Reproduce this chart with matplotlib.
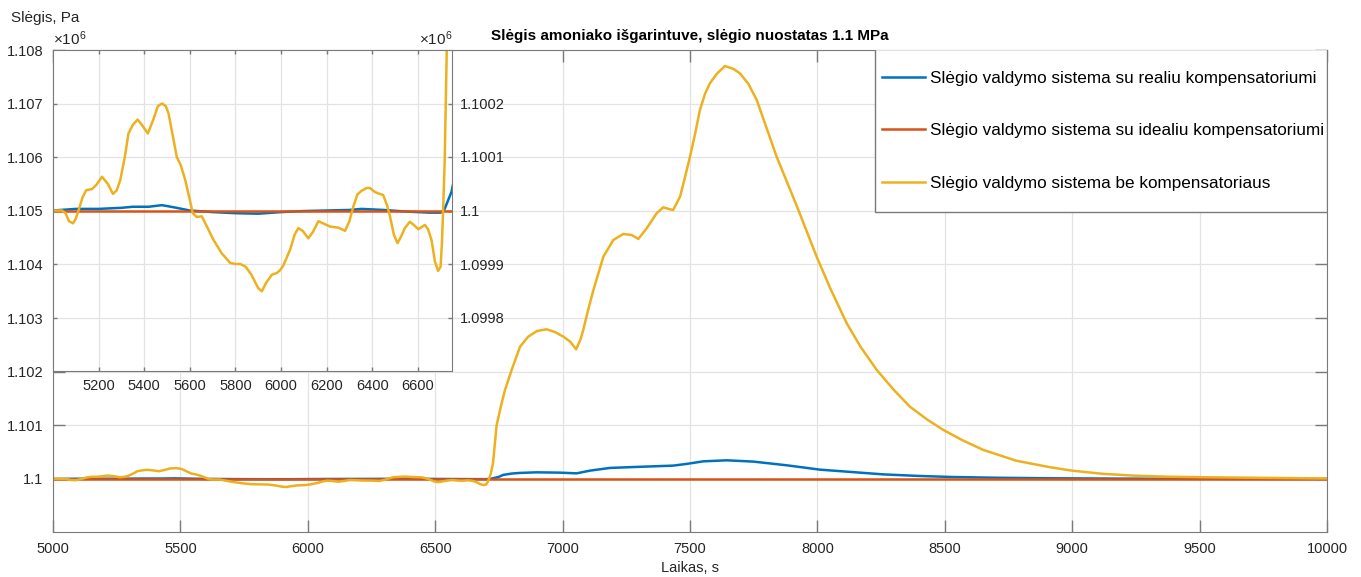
import numpy as np
import matplotlib.pyplot as plt
from matplotlib.patches import Rectangle
from matplotlib.ticker import FuncFormatter, MultipleLocator

plt.rcParams['font.family'] = ['Liberation Sans', 'DejaVu Sans']
plt.rcParams['mathtext.fontset'] = 'custom'
plt.rcParams['mathtext.rm'] = 'Liberation Sans'
plt.rcParams['mathtext.it'] = 'Liberation Sans:italic'

NUOSTATAS = 1.1e6  # slegio nuostatas, Pa

# be kompensatoriaus: laikas, s ir nuokrypis nuo nuostato, Pa
t_be = [5000, 5040, 5055, 5070, 5088, 5100, 5112, 5130, 5146, 5171, 5190, 5215,
        5240, 5263, 5280, 5295, 5315, 5331, 5350, 5371, 5390, 5416, 5440, 5460,
        5478, 5495, 5507, 5525, 5543, 5560, 5580, 5600, 5613, 5630, 5653, 5675,
        5704, 5740, 5777, 5800, 5821, 5845, 5870, 5900, 5916, 5935, 5960, 5981,
        5995, 6010, 6040, 6060, 6076, 6095, 6120, 6140, 6164, 6190, 6215, 6251,
        6281, 6300, 6317, 6335, 6354, 6375, 6390, 6410, 6426, 6448, 6465, 6478,
        6495, 6511, 6525, 6543, 6565, 6585, 6602, 6620, 6631, 6645, 6660, 6675,
        6689, 6700, 6706, 6711, 6718, 6727, 6741, 6760, 6774, 6800, 6833, 6865,
        6900, 6937, 6970, 7003, 7030, 7053, 7070, 7081, 7100, 7121, 7160, 7199,
        7238, 7271, 7297, 7330, 7369, 7395, 7420, 7434, 7461, 7480, 7500, 7520,
        7539, 7559, 7578, 7605, 7637, 7670, 7696, 7729, 7762, 7788, 7840, 7920,
        7997, 8050, 8115, 8170, 8233, 8300, 8363, 8430, 8494, 8570, 8651, 8780,
        8913, 8998, 9120, 9239, 9370, 9502, 9750, 10000]
dp_be = [0, 0, -5, -20, -24, -15, 0, 25, 38, 40, 48, 63,
         50, 31, 38, 57, 100, 144, 160, 170, 160, 144, 170, 195,
         200, 195, 181, 140, 100, 85, 57, 20, -5, -12, -11, -30,
         -55, -80, -98, -100, -100, -105, -120, -145, -151, -135, -120, -117,
         -112, -103, -73, -45, -33, -38, -52, -40, -20, -25, -30, -32,
         -38, -20, 7, 30, 37, 42, 42, 35, 32, 29, 10, -11,
         -45, -61, -50, -33, -21, -28, -35, -30, -27, -35, -55, -95,
         -113, -105, -60, 0, 94, 300, 1000, 1400, 1660, 2032, 2467, 2653,
         2760, 2791, 2740, 2653, 2560, 2418, 2600, 2778, 3150, 3524, 4145, 4456,
         4568, 4550, 4475, 4675, 4954, 5066, 5030, 5016, 5264, 5620, 6010, 6437,
         6881, 7183, 7378, 7555, 7701, 7649, 7565, 7369, 7067, 6716, 6010, 5080,
         4145, 3560, 2903, 2460, 2032, 1660, 1348, 1110, 914, 720, 541, 340,
         218, 155, 95, 62, 42, 32, 20, 8]

# su realiu kompensatoriumi
t_real = [5000, 5100, 5200, 5300, 5350, 5420, 5478, 5530, 5600, 5700, 5800, 5900,
          6000, 6100, 6200, 6300, 6354, 6450, 6550, 6650, 6700, 6715, 6748, 6767,
          6800, 6833, 6898, 6990, 7055, 7108, 7186, 7291, 7434, 7487, 7552, 7644,
          7749, 7880, 8010, 8258, 8400, 8520, 8700, 8913, 9200, 9500, 10000]
dp_real = [0, 3, 3, 5, 7, 7, 10, 6, 0, -3, -5, -6,
           -3, -1, 0, 1, 3, 1, -2, -4, -4, 0, 35, 75,
           100, 112, 123, 117, 104, 155, 205, 224, 248, 280, 328, 347,
           323, 254, 173, 85, 55, 37, 22, 12, 5, 2, 0]

# su idealiu kompensatoriumi
t_ideal = [5000, 10000]
dp_ideal = [0, 0]

serijos = [
    (t_real, dp_real, '#0072BD', 'Slėgio valdymo sistema su realiu kompensatoriumi'),
    (t_ideal, dp_ideal, '#D95319', 'Slėgio valdymo sistema su idealiu kompensatoriumi'),
    (t_be, dp_be, '#EDB120', 'Slėgio valdymo sistema be kompensatoriaus'),
]

spalva_asiu = '#7a7a7a'
spalva_teksto = '#262626'
fmt = FuncFormatter(lambda v, pos: '%g' % round(v / 1e6, 6))

fig = plt.figure(figsize=(13.61, 5.77), dpi=100)
ax = fig.add_axes([53 / 1361, 1 - 532 / 577, 1274 / 1361, 482 / 577])

for t, dp, c, lab in serijos:
    ax.plot(t, NUOSTATAS + np.array(dp), color=c, lw=1.8, label=lab)

ax.set_xlim(5000, 10000)
ax.set_ylim(NUOSTATAS - 990, NUOSTATAS + 8000)
ax.xaxis.set_major_locator(MultipleLocator(500))
ax.set_yticks(NUOSTATAS + np.arange(0, 8001, 1000))
ax.yaxis.set_major_formatter(fmt)
ax.grid(True, color='#e3e3e3', lw=0.9)
ax.set_axisbelow(True)
ax.tick_params(direction='in', top=True, right=True, length=8.5, width=1,
               color=spalva_asiu, labelsize=10.5, labelcolor=spalva_teksto, pad=7)
for s in ax.spines.values():
    s.set_color(spalva_asiu)
ax.set_xlabel('Laikas, s', fontsize=10.5, color=spalva_teksto, labelpad=4)
ax.set_title('Slėgis amoniako išgarintuve, slėgio nuostatas 1.1 MPa',
             fontsize=11, fontweight='bold', pad=7)

# legendos remelis kampe ir irasai jame
lx0, ly0, lw_, lh_ = 822 / 1274, 320 / 482, 452 / 1274, 163 / 482
ax.add_patch(Rectangle((lx0, ly0), lw_, lh_, transform=ax.transAxes,
                       facecolor='white', edgecolor=spalva_asiu, lw=1, zorder=4))
leg = ax.legend(loc='upper left', bbox_to_anchor=(lx0, 0.971), borderaxespad=0,
                fontsize=12.3, labelspacing=2.2, handlelength=2.5,
                handletextpad=0.3, borderpad=0.4, frameon=False)
leg.set_zorder(5)

# padidintas pradzios fragmentas
ins = fig.add_axes([53 / 1361, 1 - 371 / 577, 399 / 1361, 321 / 577])
ins.set_facecolor('white')
for t, dp, c, lab in serijos:
    ins.plot(t, NUOSTATAS + np.array(dp), color=c, lw=1.8)
ins.set_xlim(5000, 6750)
ins.set_ylim(NUOSTATAS - 300, NUOSTATAS + 300)
ins.set_xticks(np.arange(5200, 6601, 200))
ins.set_yticks(NUOSTATAS + np.arange(-200, 201, 100))
ins.yaxis.set_major_formatter(fmt)
ins.yaxis.tick_right()
ins.grid(True, color='#e3e3e3', lw=0.9)
ins.set_axisbelow(True)
ins.tick_params(direction='in', top=True, left=True, right=True, length=3,
                width=1, color=spalva_asiu, labelsize=10.5,
                labelcolor=spalva_teksto, pad=6)
for s in ins.spines.values():
    s.set_color(spalva_asiu)

# daugikliai ir asies pavadinimas
fig.text(53 / 1361, 1 - 48 / 577, r'$\times10^{6}$', fontsize=11,
         color=spalva_teksto, ha='left', va='bottom')
fig.text(452 / 1361, 1 - 48 / 577, r'$\times10^{6}$', fontsize=11,
         color=spalva_teksto, ha='right', va='bottom')
fig.text(11 / 1361, 1 - 18 / 577, 'Slėgis, Pa', fontsize=11,
         color=spalva_teksto, ha='left', va='center')

fig.savefig('out.png', dpi=100)
